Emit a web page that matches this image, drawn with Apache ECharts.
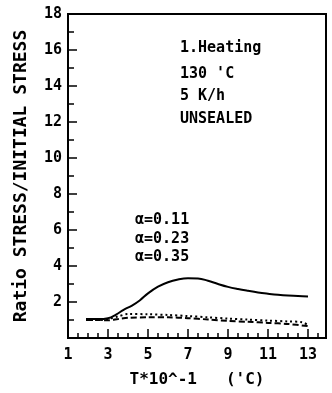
<!DOCTYPE html>
<html>
<head>
<meta charset="utf-8">
<script src="https://cdn.jsdelivr.net/npm/echarts@6/dist/echarts.min.js"></script>
<style>
  html, body { margin: 0; padding: 0; background: #fff; }
  #chart { width: 332px; height: 393px; }
</style>
</head>
<body>
<div id="chart"></div>
<script>
// Stress ratio curves, 1st heating at 130 °C, 5 K/h, unsealed
const tempSolid = [1.9, 2.5, 3.0, 3.4, 3.8, 4.2, 4.6, 5.0, 5.5, 6.0, 6.5, 7.0, 7.5, 8.0, 8.5, 9.0, 9.5, 10.0, 10.5, 11.0, 11.5, 12.0, 12.5, 13.0];
const ratioSolid = [1.05, 1.05, 1.1, 1.3, 1.58, 1.8, 2.1, 2.48, 2.85, 3.1, 3.25, 3.32, 3.31, 3.18, 3.0, 2.84, 2.72, 2.62, 2.53, 2.46, 2.4, 2.36, 2.34, 2.31];

const tempDotted = [1.9, 2.5, 3.0, 3.5, 4.0, 5.0, 6.0, 7.0, 8.0, 9.0, 10.0, 11.0, 12.0, 12.7, 13.0];
const ratioDotted = [1.0, 1.0, 1.05, 1.2, 1.33, 1.32, 1.28, 1.22, 1.15, 1.08, 1.02, 0.97, 0.92, 0.88, 0.72];

const tempDashed = [1.9, 2.5, 3.0, 3.5, 4.0, 5.0, 6.0, 7.0, 8.0, 9.0, 10.0, 11.0, 12.0, 13.0];
const ratioDashed = [1.0, 1.0, 0.98, 1.05, 1.12, 1.15, 1.15, 1.1, 1.03, 0.95, 0.9, 0.84, 0.78, 0.66];

const xTickLabels = ['1', '3', '5', '7', '9', '11', '13'];
const yTickLabels = ['2', '4', '6', '8', '10', '12', '14', '16', '18'];

const infoLines = ['1.Heating', "130 'C", '5 K/h', 'UNSEALED'];
const alphaLines = ['α=0.11', 'α=0.23', 'α=0.35'];

const pair = (xs, ys) => xs.map((x, i) => [x, ys[i]]);

const FONT = 'DejaVu Sans Mono';
const INK = '#000';

const chart = echarts.init(document.getElementById('chart'), null, { renderer: 'canvas' });

const textStyle = (t, x, y, size) => ({
  type: 'text',
  left: x,
  top: y,
  style: { text: t, fill: INK, font: 'bold ' + size + 'px "' + FONT + '"', textVerticalAlign: 'middle' }
});

const graphics = [];
[49, 75, 97, 120].forEach((y, i) => graphics.push(textStyle(infoLines[i], 180, y - 8, 15)));
[221, 240, 258].forEach((y, i) => graphics.push(textStyle(alphaLines[i], 135, y - 8, 15)));

chart.setOption({
  animation: false,
  backgroundColor: '#fff',
  grid: {
    left: 68, right: 6, top: 14, bottom: 50,
    show: true, borderColor: INK, borderWidth: 2, backgroundColor: 'transparent'
  },
  xAxis: {
    type: 'value',
    min: 1, max: 13.9, interval: 2,
    name: "T*10^-1   ('C)",
    nameLocation: 'middle',
    nameGap: 34,
    nameTextStyle: { color: INK, fontFamily: FONT, fontWeight: 'bold', fontSize: 16 },
    axisLine: { show: true, lineStyle: { color: INK, width: 2 } },
    axisTick: { show: true, inside: true, length: 9, lineStyle: { color: INK, width: 1.5 } },
    minorTick: { show: true, splitNumber: 4, length: 5, lineStyle: { color: INK, width: 1.5 } },
    splitLine: { show: false },
    minorSplitLine: { show: false },
    axisLabel: {
      color: INK, fontFamily: FONT, fontWeight: 'bold', fontSize: 15, margin: 10,
      showMaxLabel: false,
      formatter: v => (xTickLabels.includes(String(v)) ? String(v) : '')
    }
  },
  yAxis: {
    type: 'value',
    min: 0, max: 18, interval: 2,
    name: 'Ratio STRESS/INITIAL STRESS',
    nameLocation: 'middle',
    nameGap: 38,
    nameTextStyle: { color: INK, fontFamily: FONT, fontWeight: 'bold', fontSize: 18 },
    axisLine: { show: true, lineStyle: { color: INK, width: 2 } },
    axisTick: { show: true, inside: true, length: 9, lineStyle: { color: INK, width: 1.5 } },
    minorTick: { show: true, splitNumber: 2, length: 6, lineStyle: { color: INK, width: 1.5 } },
    splitLine: { show: false },
    minorSplitLine: { show: false },
    axisLabel: {
      color: INK, fontFamily: FONT, fontWeight: 'bold', fontSize: 15, margin: 6,
      formatter: v => (yTickLabels.includes(String(v)) ? String(v) : '')
    }
  },
  series: [
    {
      name: 'α=0.11', type: 'line', data: pair(tempSolid, ratioSolid),
      smooth: 0.4, showSymbol: false,
      lineStyle: { color: INK, width: 2 }
    },
    {
      name: 'α=0.23', type: 'line', data: pair(tempDotted, ratioDotted),
      smooth: 0.3, showSymbol: false,
      lineStyle: { color: INK, width: 2, type: [2, 3] }
    },
    {
      name: 'α=0.35', type: 'line', data: pair(tempDashed, ratioDashed),
      smooth: 0.3, showSymbol: false,
      lineStyle: { color: INK, width: 2, type: [6, 3] }
    }
  ],
  graphic: graphics
});
</script>
</body>
</html>
